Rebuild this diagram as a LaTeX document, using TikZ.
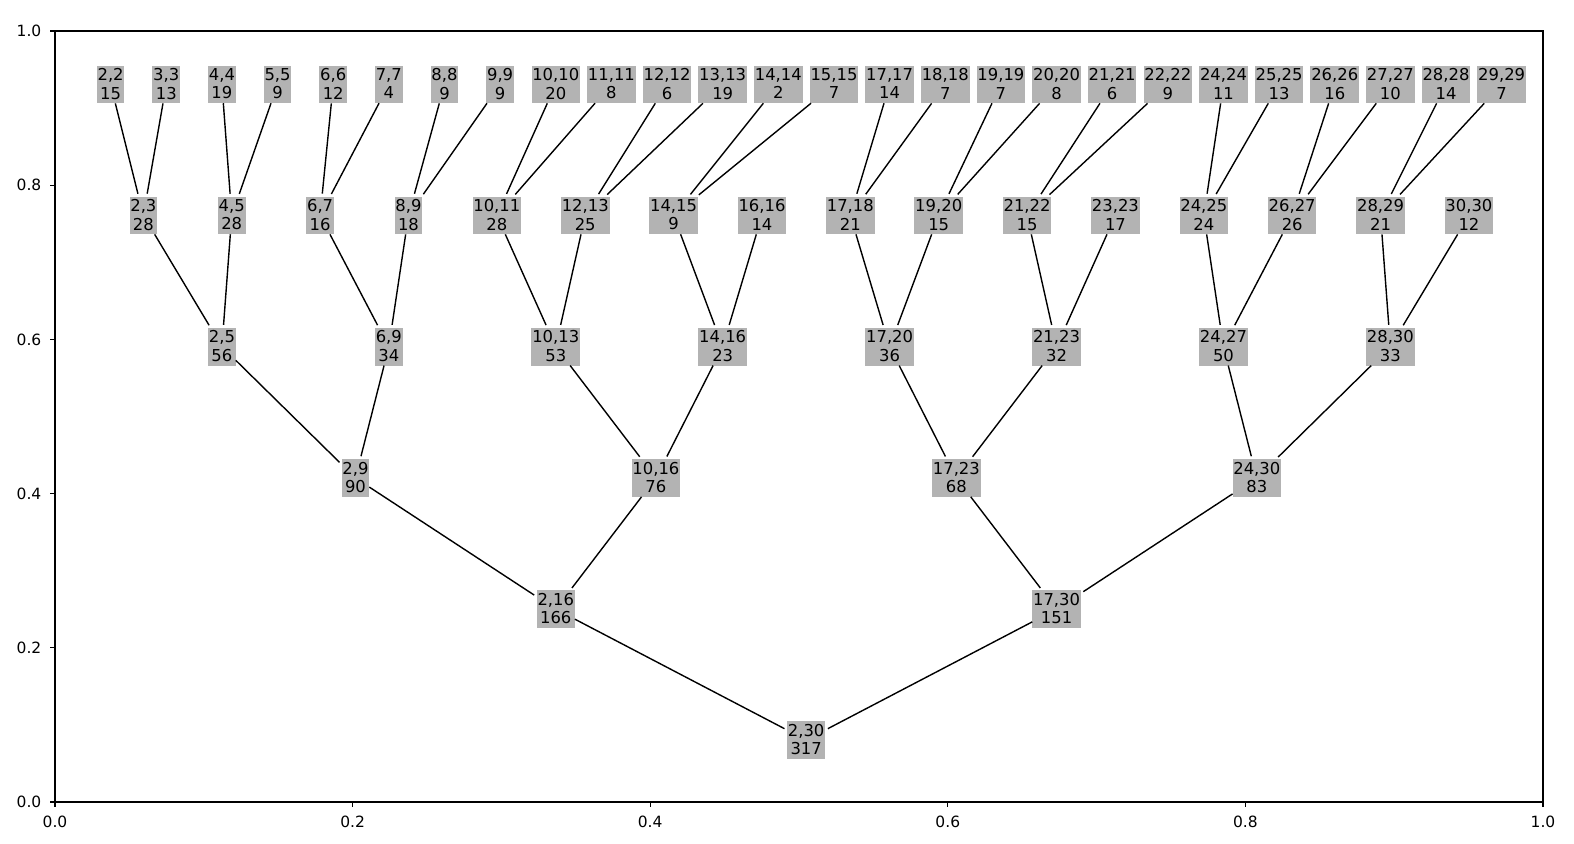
\documentclass[tikz,border=0pt]{standalone}
\usepackage{fontspec}
\setmainfont{DejaVu Sans}
\definecolor{boxgray}{RGB}{179,179,179}
\tikzset{
  bx/.style={fill=boxgray, draw=none, inner xsep=0.4pt, inner ysep=1.46pt, text depth=0.7pt,
    outer sep=0pt, align=center, font=\fontsize{8.2pt}{9.15pt}\selectfont},
  edge/.style={draw=black, line width=0.7pt, shorten >=1.5pt},
  axisline/.style={draw=black, line width=0.62pt},
  ticklab/.style={inner sep=0pt, font=\fontsize{7.75pt}{9pt}\selectfont}
}
\begin{document}
\begin{tikzpicture}[x=0.5pt,y=-0.5pt]
\useasboundingbox (0,0) rectangle (1574,844);
% axes frame
\draw[axisline] (55,31) rectangle (1543,802);
\foreach \v/\l in {0/0.0,0.2/0.2,0.4/0.4,0.6/0.6,0.8/0.8,1/1.0}{
  \draw[axisline] ({55+1488*\v},802) -- ({55+1488*\v},807.4);
  \node[ticklab] (xt\l) at ({55+1488*\v},821.7) {\l};
  \draw[axisline] (55,{802-771*\v}) -- (49.6,{802-771*\v});
  \node[ticklab, anchor=east] (yt\l) at (41.7,{802-771*\v}) {\l};
}
% level 1
\foreach \i/\a/\b/\w in {1/2/2/15,2/3/3/13,3/4/4/19,4/5/5/9,5/6/6/12,6/7/7/4,7/8/8/9,8/9/9/9,
  9/10/10/20,10/11/11/8,11/12/12/6,12/13/13/19,13/14/14/2,14/15/15/7,15/17/17/14,16/18/18/7,
  17/19/19/7,18/20/20/8,19/21/21/6,20/22/22/9,21/24/24/11,22/25/25/13,23/26/26/16,24/27/27/10,
  25/28/28/14,26/29/29/7}{
  \node[bx] (n\a-\b) at ({55+55.641*\i},84.5) {\a,\b\\\w};
}
% level 2
\foreach \i/\a/\b/\w in {1/2/3/28,2/4/5/28,3/6/7/16,4/8/9/18,5/10/11/28,6/12/13/25,7/14/15/9,
  8/16/16/14,9/17/18/21,10/19/20/15,11/21/22/15,12/23/23/17,13/24/25/24,14/26/27/26,15/28/29/21,16/30/30/12}{
  \node[bx] (n\a-\b) at ({55+88.371*\i},215.5) {\a,\b\\\w};
}
% level 3
\foreach \i/\a/\b/\w in {1/2/5/56,2/6/9/34,3/10/13/53,4/14/16/23,5/17/20/36,6/21/23/32,7/24/27/50,8/28/30/33}{
  \node[bx] (n\a-\b) at ({55+166.922*\i},346.7) {\a,\b\\\w};
}
% level 4
\foreach \i/\a/\b/\w in {1/2/9/90,2/10/16/76,3/17/23/68,4/24/30/83}{
  \node[bx] (n\a-\b) at ({55+300.46*\i},478) {\a,\b\\\w};
}
% level 5
\foreach \i/\a/\b/\w in {1/2/16/166,2/17/30/151}{
  \node[bx] (n\a-\b) at ({55+500.767*\i},609.2) {\a,\b\\\w};
}
% level 6
\node[bx] (n2-30) at (806.15,740) {2,30\\317};
% edges
\foreach \c/\p in {n2-2/n2-3,n3-3/n2-3,n4-4/n4-5,n5-5/n4-5,n6-6/n6-7,n7-7/n6-7,n8-8/n8-9,n9-9/n8-9,
  n10-10/n10-11,n11-11/n10-11,n12-12/n12-13,n13-13/n12-13,n14-14/n14-15,n15-15/n14-15,
  n17-17/n17-18,n18-18/n17-18,n19-19/n19-20,n20-20/n19-20,n21-21/n21-22,n22-22/n21-22,
  n24-24/n24-25,n25-25/n24-25,n26-26/n26-27,n27-27/n26-27,n28-28/n28-29,n29-29/n28-29,
  n2-3/n2-5,n4-5/n2-5,n6-7/n6-9,n8-9/n6-9,n10-11/n10-13,n12-13/n10-13,n14-15/n14-16,n16-16/n14-16,
  n17-18/n17-20,n19-20/n17-20,n21-22/n21-23,n23-23/n21-23,n24-25/n24-27,n26-27/n24-27,n28-29/n28-30,n30-30/n28-30,
  n2-5/n2-9,n6-9/n2-9,n10-13/n10-16,n14-16/n10-16,n17-20/n17-23,n21-23/n17-23,n24-27/n24-30,n28-30/n24-30,
  n2-9/n2-16,n10-16/n2-16,n17-23/n17-30,n24-30/n17-30,
  n2-16/n2-30,n17-30/n2-30}{
  \draw[edge] (\c) -- (\p);
}
\end{tikzpicture}
\end{document}
